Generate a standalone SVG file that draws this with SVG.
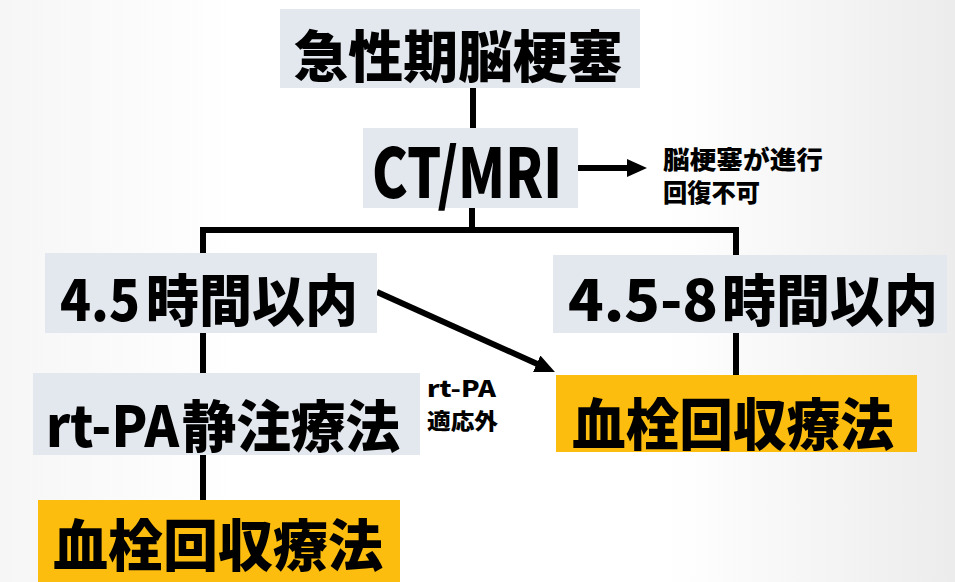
<svg xmlns="http://www.w3.org/2000/svg" width="955" height="582" viewBox="0 0 955 582">
<defs>
<linearGradient id="bg" x1="0" y1="0" x2="1" y2="0">
<stop offset="0" stop-color="#f6f6f6"/>
<stop offset="0.25" stop-color="#ffffff"/>
<stop offset="0.7" stop-color="#ffffff"/>
<stop offset="1" stop-color="#ececec"/>
</linearGradient>
<marker id="ah" markerUnits="userSpaceOnUse" markerWidth="20" markerHeight="18" refX="8" refY="9" orient="auto">
<path d="M0,0 L20,9 L0,18 Z" fill="#000"/>
</marker>
<style>
.gray{fill:#e3e7ee}
.yel{fill:#fdbd0f}
.t{font-family:"Noto Sans CJK JP","Noto Sans CJK SC",sans-serif;font-weight:900;fill:#000;text-anchor:middle;dominant-baseline:central}
.big{font-size:56px}
.st{text-anchor:start}
.sm{font-size:22px;text-anchor:start}
.ln{stroke:#000;stroke-width:6;fill:none}
</style>
</defs>
<rect width="955" height="582" fill="url(#bg)"/>
<g id="connectors">
<line class="ln" x1="473" y1="88" x2="473" y2="128"/>
<polyline class="ln" points="472,208 472,230"/>
<polyline class="ln" points="203,253 203,230 736,230 736,255"/>
<line class="ln" x1="203" y1="333" x2="203" y2="373"/>
<line class="ln" x1="203" y1="455" x2="203" y2="500"/>
<line class="ln" x1="736" y1="333" x2="736" y2="375"/>
<line class="ln" x1="578" y1="168" x2="635" y2="168" marker-end="url(#ah)"/>
<line class="ln" x1="377" y1="292" x2="544" y2="367" marker-end="url(#ah)"/>
</g>
<g id="n_acute">
<rect class="gray" x="280" y="9" width="360" height="79"/>
<text class="t big" x="458" y="52" textLength="329" lengthAdjust="spacingAndGlyphs">急性期脳梗塞</text>
</g>
<g id="n_ctmri">
<rect class="gray" x="363" y="128" width="215" height="80"/>
<text class="t" x="467" y="168" font-size="68" textLength="190" lengthAdjust="spacingAndGlyphs">CT/MRI</text>
</g>
<g id="n_progress">
<text class="t sm" x="663" y="158" style="font-size:25px" textLength="160" lengthAdjust="spacingAndGlyphs">脳梗塞が進行</text>
<text class="t sm" x="663" y="191" style="font-size:25px" textLength="97" lengthAdjust="spacingAndGlyphs">回復不可</text>
</g>
<g id="n_45">
<rect class="gray" x="45" y="253" width="332" height="80"/>
<text class="t big st" y="296"><tspan x="60" textLength="80" lengthAdjust="spacingAndGlyphs">4.5</tspan><tspan x="146" textLength="212" lengthAdjust="spacingAndGlyphs">時間以内</tspan></text>
</g>
<g id="n_458">
<rect class="gray" x="553" y="255" width="394" height="78"/>
<text class="t big st" y="296"><tspan x="568" textLength="150" lengthAdjust="spacingAndGlyphs">4.5-8</tspan><tspan x="722" textLength="216" lengthAdjust="spacingAndGlyphs">時間以内</tspan></text>
</g>
<g id="n_rtpa">
<rect class="gray" x="33" y="373" width="387" height="82"/>
<text class="t big st" y="422"><tspan x="46" textLength="133" lengthAdjust="spacingAndGlyphs">rt-PA</tspan><tspan x="182" textLength="218" lengthAdjust="spacingAndGlyphs">静注療法</tspan></text>
</g>
<g id="n_label">
<text class="t sm" x="427" y="387" textLength="69" lengthAdjust="spacingAndGlyphs">rt-PA</text>
<text class="t sm" x="427" y="419" textLength="71" lengthAdjust="spacingAndGlyphs">適応外</text>
</g>
<g id="n_thromb_right">
<rect class="yel" x="556" y="375" width="361" height="77"/>
<text class="t big" x="733" y="420" textLength="322" lengthAdjust="spacingAndGlyphs">血栓回収療法</text>
</g>
<g id="n_thromb_left">
<rect class="yel" x="38" y="500" width="362" height="82"/>
<text class="t big" x="218" y="541" textLength="330" lengthAdjust="spacingAndGlyphs">血栓回収療法</text>
</g>
</svg>
